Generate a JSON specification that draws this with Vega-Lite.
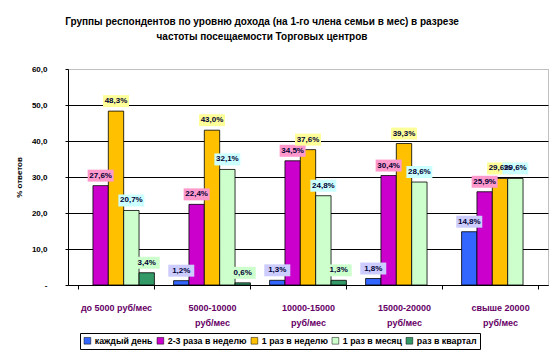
{
  "$schema": "https://vega.github.io/schema/vega-lite/v6.json",
  "width": 480,
  "height": 216,
  "autosize": {"type": "none"},
  "padding": {"left": 68, "top": 69, "right": 11, "bottom": 74},
  "background": "white",
  "config": {
    "font": "Liberation Sans",
    "view": {"stroke": "#808080", "strokeDash": [1, 1], "strokeWidth": 1}
  },
  "title": {
    "text": ["Группы респондентов по уровню дохода (на 1-го члена семьи в мес) в разрезе", "частоты посещаемости Торговых центров"],
    "fontSize": 10,
    "fontWeight": "bold",
    "font": "Liberation Sans",
    "color": "black",
    "anchor": "middle",
    "dx": -46,
    "offset": 23,
    "lineHeight": 15
  },
  "data": {
    "values": [
      {"group": "до 5000 руб/мес", "series": "каждый день", "value": null},
      {"group": "до 5000 руб/мес", "series": "2-3 раза в неделю", "value": 27.6},
      {"group": "до 5000 руб/мес", "series": "1 раз в неделю", "value": 48.3},
      {"group": "до 5000 руб/мес", "series": "1 раз в месяц", "value": 20.7},
      {"group": "до 5000 руб/мес", "series": "раз в квартал", "value": 3.4},
      {"group": "5000-10000 руб/мес", "series": "каждый день", "value": 1.2},
      {"group": "5000-10000 руб/мес", "series": "2-3 раза в неделю", "value": 22.4},
      {"group": "5000-10000 руб/мес", "series": "1 раз в неделю", "value": 43.0},
      {"group": "5000-10000 руб/мес", "series": "1 раз в месяц", "value": 32.1},
      {"group": "5000-10000 руб/мес", "series": "раз в квартал", "value": 0.6},
      {"group": "10000-15000 руб/мес", "series": "каждый день", "value": 1.3},
      {"group": "10000-15000 руб/мес", "series": "2-3 раза в неделю", "value": 34.5},
      {"group": "10000-15000 руб/мес", "series": "1 раз в неделю", "value": 37.6},
      {"group": "10000-15000 руб/мес", "series": "1 раз в месяц", "value": 24.8},
      {"group": "10000-15000 руб/мес", "series": "раз в квартал", "value": 1.3},
      {"group": "15000-20000 руб/мес", "series": "каждый день", "value": 1.8},
      {"group": "15000-20000 руб/мес", "series": "2-3 раза в неделю", "value": 30.4},
      {"group": "15000-20000 руб/мес", "series": "1 раз в неделю", "value": 39.3},
      {"group": "15000-20000 руб/мес", "series": "1 раз в месяц", "value": 28.6},
      {"group": "15000-20000 руб/мес", "series": "раз в квартал", "value": null},
      {"group": "свыше 20000 руб/мес", "series": "каждый день", "value": 14.8},
      {"group": "свыше 20000 руб/мес", "series": "2-3 раза в неделю", "value": 25.9},
      {"group": "свыше 20000 руб/мес", "series": "1 раз в неделю", "value": 29.6},
      {"group": "свыше 20000 руб/мес", "series": "1 раз в месяц", "value": 29.6},
      {"group": "свыше 20000 руб/мес", "series": "раз в квартал", "value": null}
    ]
  },
  "encoding": {
    "x": {
      "field": "group",
      "type": "nominal",
      "sort": null,
      "scale": {"paddingInner": 0.2, "paddingOuter": 0.1},
      "axis": {
        "title": null,
        "labelAngle": 0,
        "labelFont": "Liberation Sans",
        "labelFontSize": 9,
        "labelFontWeight": "bold",
        "labelColor": "#660066",
        "labelPadding": 14,
        "labelLineHeight": 15,
        "labelExpr": "!datum.label ? '' : (datum.label == 'до 5000 руб/мес' ? datum.label : [substring(datum.label, 0, length(datum.label) - 8), 'руб/мес'])",
        "tickBand": "extent",
        "tickColor": "black",
        "tickSize": 4,
        "domainColor": "black",
        "grid": false
      }
    },
    "xOffset": {
      "field": "series",
      "type": "nominal",
      "sort": ["каждый день", "2-3 раза в неделю", "1 раз в неделю", "1 раз в месяц", "раз в квартал"],
      "scale": {"paddingInner": 0, "paddingOuter": 0}
    },
    "y": {
      "field": "value",
      "type": "quantitative",
      "scale": {"domain": [0, 60], "nice": false},
      "axis": {
        "title": "% ответов",
        "titleFont": "Liberation Sans",
        "titleFontSize": 8,
        "titleFontWeight": "bold",
        "titleColor": "black",
        "titlePadding": 8,
        "values": [0, 10, 20, 30, 40, 50, 60],
        "labelExpr": "datum.value == 0 ? '-' : replace(format(datum.value, '.1f'), '.', ',')",
        "labelFont": "Liberation Sans",
        "labelFontSize": 8,
        "labelFontWeight": "bold",
        "labelColor": "black",
        "labelPadding": 18,
        "tickColor": "black",
        "tickSize": 3,
        "domainColor": "black",
        "gridColor": {"condition": {"test": "datum.value >= 60", "value": "transparent"}, "value": "black"},
        "gridWidth": 1
      }
    }
  },
  "layer": [
    {
      "mark": {"type": "bar", "stroke": "black", "strokeWidth": 0.8},
      "encoding": {
        "color": {
          "field": "series",
          "type": "nominal",
          "sort": null,
          "scale": {
            "domain": ["каждый день", "2-3 раза в неделю", "1 раз в неделю", "1 раз в месяц", "раз в квартал"],
            "range": ["#3366FF", "#CC00CC", "#FFC000", "#CCFFCC", "#339966"]
          },
          "legend": {
            "title": null,
            "orient": "none",
            "legendX": 12,
            "legendY": 264,
            "direction": "horizontal",
            "strokeColor": "black",
            "padding": 3,
            "symbolType": "square",
            "symbolSize": 45,
            "symbolStrokeColor": "black",
            "symbolStrokeWidth": 0.5,
            "symbolOpacity": 1,
            "labelFont": "Liberation Sans",
            "labelFontSize": 8.8,
            "labelFontWeight": "bold",
            "labelColor": "black",
            "labelOffset": 3,
            "columnPadding": 3
          }
        }
      }
    },
    {
      "transform": [{"filter": "datum.value != null"}],
      "mark": {"type": "point", "shape": "M-1,-0.46H1V0.46H-1Z", "filled": true, "size": 676, "opacity": 1, "yOffset": -10},
      "encoding": {
        "color": {
          "field": "series",
          "type": "nominal",
          "sort": null,
          "scale": {
            "domain": ["каждый день", "2-3 раза в неделю", "1 раз в неделю", "1 раз в месяц", "раз в квартал"],
            "range": ["#CCCCFF", "#FF99CC", "#FFFF99", "#CCFFFF", "#CCFFCC"]
          },
          "legend": null
        }
      }
    },
    {
      "transform": [
        {"filter": "datum.value != null"},
        {"calculate": "replace(format(datum.value, '.1f'), '.', ',') + '%'", "as": "label"}
      ],
      "mark": {"type": "text", "font": "Liberation Sans", "fontSize": 8, "fontWeight": "bold", "color": "#000033", "yOffset": -10, "baseline": "middle"},
      "encoding": {
        "text": {"field": "label", "type": "nominal"}
      }
    }
  ],
  "resolve": {"scale": {"color": "independent"}}
}
